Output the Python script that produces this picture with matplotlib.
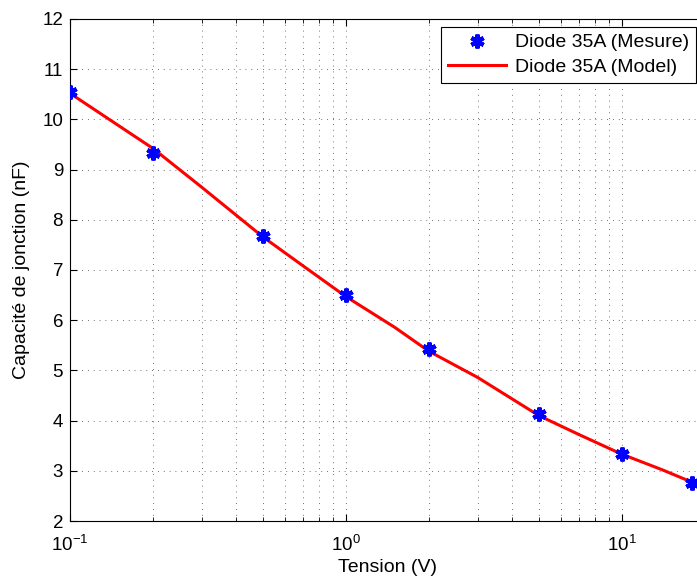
# Diode 35A junction capacitance vs reverse voltage (MATLAB-style figure)

import matplotlib
matplotlib.use("Agg")
import matplotlib.pyplot as plt
from matplotlib.ticker import LogLocator, LogFormatterMathtext, NullFormatter

plt.rcParams["font.family"] = ["Liberation Sans", "DejaVu Sans"]
plt.rcParams["mathtext.fontset"] = "custom"
plt.rcParams["mathtext.rm"] = "Liberation Sans"
plt.rcParams["mathtext.it"] = "Liberation Sans"

# Measured points
v_mesure = [0.1, 0.2, 0.5, 1.0, 2.0, 5.0, 10.0, 18.0]
c_mesure = [10.55, 9.33, 7.67, 6.51, 5.42, 4.14, 3.34, 2.76]

# Model curve
v_model = [0.1, 0.2, 0.3, 0.5, 0.7, 1.0, 1.5, 2.0, 3.0, 5.0, 7.0, 10.0, 14.0, 18.0]
c_model = [10.52, 9.42, 8.65, 7.66, 7.08, 6.47, 5.86, 5.38, 4.86, 4.10, 3.72, 3.33, 3.02, 2.77]

fig = plt.figure(figsize=(6.97, 5.77), dpi=100)
# axes run past the right edge, as in the cropped original
ax = fig.add_axes([70 / 697, 56 / 577, 635 / 697, 502 / 577])

ax.plot(v_mesure, c_mesure, linestyle="none", marker=(6, 2, 0), markersize=10,
        markeredgewidth=3, color="blue", label="Diode 35A (Mesure)", zorder=3)
ax.plot(v_model, c_model, color="red", linewidth=2.2, label="Diode 35A (Model)", zorder=2)

ax.set_xscale("log")
ax.set_xlim(0.1, 20)
ax.set_ylim(2, 12)
ax.set_yticks(range(2, 13))
ax.xaxis.set_major_locator(LogLocator(base=10))
ax.xaxis.set_major_formatter(LogFormatterMathtext())
ax.xaxis.set_minor_locator(LogLocator(base=10, subs=range(2, 10)))
ax.xaxis.set_minor_formatter(NullFormatter())

ax.grid(True, which="major", linestyle=(0, (1, 6)), color="#444444", linewidth=0.6)
ax.grid(True, which="minor", axis="x", linestyle=(0, (1, 6)), color="#444444", linewidth=0.6)

ax.tick_params(which="both", direction="in", top=True, right=True, labelsize=13.5)
ax.tick_params(which="major", length=5)
ax.tick_params(which="minor", length=3)
ax.tick_params(axis="y", pad=5)
ax.tick_params(axis="x", pad=10)
ax.spines["right"].set_visible(False)

ax.set_xlabel("Tension (V)", fontsize=14, labelpad=3)
ax.set_ylabel("Capacité de jonction (nF)", fontsize=14, labelpad=9)

leg = ax.legend(loc="upper right", bbox_to_anchor=(696 / 697, 1 - 27 / 577),
                bbox_transform=fig.transFigure, borderaxespad=0, fontsize=14,
                fancybox=False, edgecolor="black", framealpha=1, handlelength=3.0,
                handletextpad=0.45, borderpad=0.35, labelspacing=0.35)
leg.get_frame().set_linewidth(0.8)

fig.savefig("out.png", dpi=100)
